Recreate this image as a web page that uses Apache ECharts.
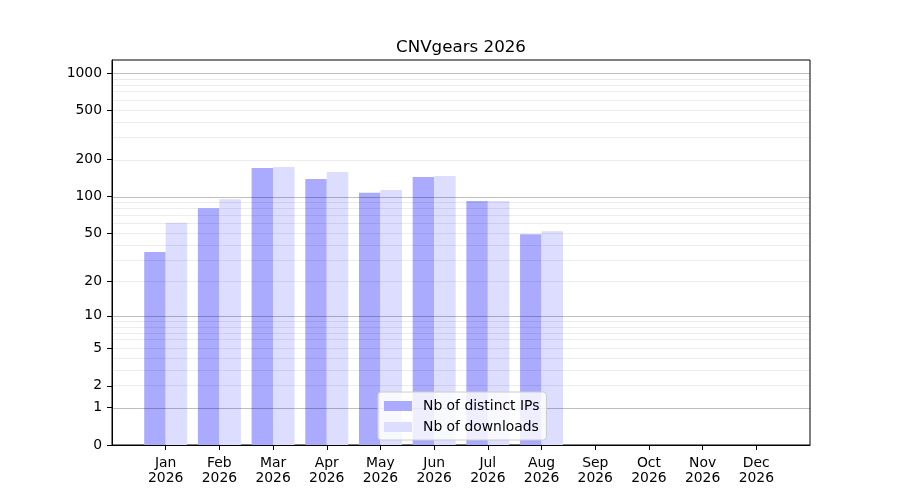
<!DOCTYPE html>
<html>
<head>
<meta charset="utf-8">
<script src="https://cdn.jsdelivr.net/npm/echarts@6/dist/echarts.min.js"></script>
<style>html,body{margin:0;padding:0;background:#fff}#c{width:900px;height:500px}</style>
</head>
<body>
<div id="c"></div>
<script>
const months = ['Jan\n2026','Feb\n2026','Mar\n2026','Apr\n2026','May\n2026','Jun\n2026','Jul\n2026','Aug\n2026','Sep\n2026','Oct\n2026','Nov\n2026','Dec\n2026'];
const distinctIPs = [35, 80, 170, 139, 107, 144, 92, 49, 0, 0, 0, 0];
const downloads   = [61, 95, 174, 158, 113, 147, 92, 52, 0, 0, 0, 0];
const yTickLabels = [0, 1, 2, 5, 10, 20, 50, 100, 200, 500, 1000];
const majorGrid = [1, 10, 100, 1000];
const minorGrid = [2,3,4,5,6,7,8,9,20,30,40,50,60,70,80,90,200,300,400,500,600,700,800,900];

const tf = v => (v == null ? null : Math.log10(1 + v));
const cats = [''].concat(months, ['']);
const pad = arr => [null].concat(arr.map(tf), [null]);
const font = 'DejaVu Sans';

const chart = echarts.init(document.getElementById('c'), null, {renderer: 'canvas'});
chart.setOption({
  animation: false,
  backgroundColor: '#fff',
  title: {
    text: 'CNVgears 2026', left: 461, top: 38, textAlign: 'center', padding: 0,
    textStyle: {fontFamily: font, fontSize: 16.7, fontWeight: 'normal', color: '#000', lineHeight: 20}
  },
  grid: {left: 112, right: 90, top: 60, bottom: 55, show: true, borderColor: '#000', borderWidth: 1, backgroundColor: 'transparent'},
  legend: {
    orient: 'vertical', left: 378, top: 392, z: 10,
    data: ['Nb of distinct IPs', 'Nb of downloads'],
    itemWidth: 28, itemHeight: 10, itemGap: 5,
    padding: [6, 7, 5, 6],
    backgroundColor: 'rgba(255,255,255,0.8)', borderColor: '#cccccc', borderWidth: 1, borderRadius: 3,
    icon: 'rect',
    textStyle: {fontFamily: font, fontSize: 13.9, color: '#000', lineHeight: 16, padding: [0, 0, 0, 6]}
  },
  xAxis: {
    type: 'category', data: cats, boundaryGap: false,
    axisLine: {show: true, lineStyle: {color: '#000', width: 1}},
    axisTick: {show: true, length: 5, lineStyle: {color: '#000'}, interval: (i) => i > 0 && i < cats.length - 1},
    axisLabel: {interval: 0, fontFamily: font, fontSize: 13.9, lineHeight: 15.5, color: '#000', margin: 10.5},
    splitLine: {show: false}
  },
  yAxis: {
    type: 'value', min: 0, max: 3.105,
    axisLine: {show: true, lineStyle: {color: '#000', width: 1}},
    axisTick: {show: true, length: 5, lineStyle: {color: '#000'}, customValues: yTickLabels.map(tf)},
    axisLabel: {
      fontFamily: font, fontSize: 13.9, color: '#000', margin: 10, padding: [3, 0, 0, 0],
      customValues: yTickLabels.map(tf),
      formatter: v => String(Math.round(Math.pow(10, v) - 1))
    },
    splitLine: {show: false}
  },
  series: [
    {
      name: 'Nb of distinct IPs', type: 'bar', data: pad(distinctIPs),
      barWidth: '40%', barGap: '0%',
      itemStyle: {color: '#aaaaff'}
    },
    {
      name: 'Nb of downloads', type: 'bar', data: pad(downloads),
      barWidth: '40%', barGap: '0%',
      itemStyle: {color: '#ddddff'},
      markLine: {
        silent: true, symbol: 'none', animation: false, z: 5,
        label: {show: false},
        data: majorGrid.map(v => ({yAxis: tf(v), lineStyle: {color: 'rgba(0,0,0,0.25)', width: 1, type: 'solid'}}))
          .concat(minorGrid.map(v => ({yAxis: tf(v), lineStyle: {color: 'rgba(0,0,0,0.075)', width: 1, type: 'solid'}})))
      }
    }
  ]
});
</script>
</body>
</html>
